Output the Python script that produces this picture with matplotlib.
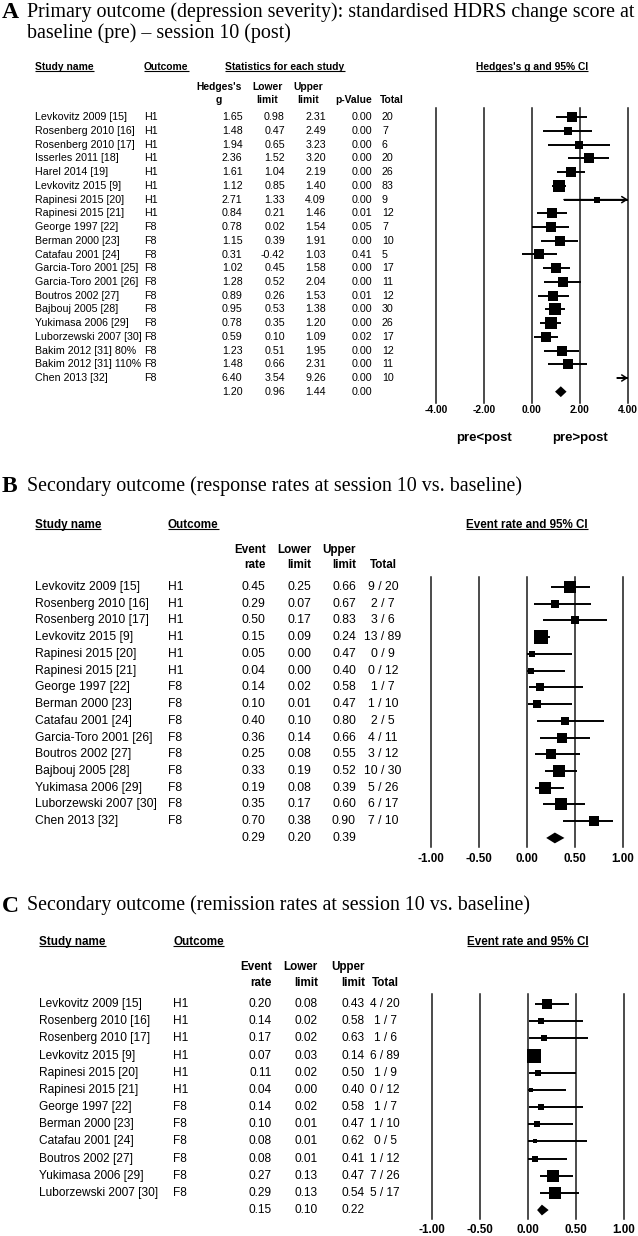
import matplotlib
matplotlib.use("Agg")
import matplotlib.pyplot as plt
import matplotlib.transforms as mtransforms
import numpy as np

# ---------------- data ----------------
A_study = ["Levkovitz 2009 [15]", "Rosenberg 2010 [16]", "Rosenberg 2010 [17]", "Isserles 2011 [18]",
           "Harel 2014 [19]", "Levkovitz 2015 [9]", "Rapinesi 2015 [20]", "Rapinesi 2015 [21]",
           "George 1997 [22]", "Berman 2000 [23]", "Catafau 2001 [24]", "Garcia-Toro 2001 [25]",
           "Garcia-Toro 2001 [26]", "Boutros 2002 [27]", "Bajbouj 2005 [28]", "Yukimasa 2006 [29]",
           "Luborzewski 2007 [30]", "Bakim 2012 [31] 80%", "Bakim 2012 [31] 110%", "Chen 2013 [32]"]
A_outcome = ["H1"] * 8 + ["F8"] * 12
A_g = [1.65, 1.48, 1.94, 2.36, 1.61, 1.12, 2.71, 0.84, 0.78, 1.15, 0.31, 1.02, 1.28, 0.89, 0.95,
       0.78, 0.59, 1.23, 1.48, 6.40]
A_lower = [0.98, 0.47, 0.65, 1.52, 1.04, 0.85, 1.33, 0.21, 0.02, 0.39, -0.42, 0.45, 0.52, 0.26, 0.53,
           0.35, 0.10, 0.51, 0.66, 3.54]
A_upper = [2.31, 2.49, 3.23, 3.20, 2.19, 1.40, 4.09, 1.46, 1.54, 1.91, 1.03, 1.58, 2.04, 1.53, 1.38,
           1.20, 1.09, 1.95, 2.31, 9.26]
A_p = [0.00, 0.00, 0.00, 0.00, 0.00, 0.00, 0.00, 0.01, 0.05, 0.00, 0.41, 0.00, 0.00, 0.01, 0.00,
       0.00, 0.02, 0.00, 0.00, 0.00]
A_total = [20, 7, 6, 20, 26, 83, 9, 12, 7, 10, 5, 17, 11, 12, 30, 26, 17, 12, 11, 10]
A_summary = [1.20, 0.96, 1.44, 0.00]
A_ticks = [-4.0, -2.0, 0.0, 2.0, 4.0]
A_tick_labels = ["-4.00", "-2.00", "0.00", "2.00", "4.00"]
A_direction = ["pre<post", "pre>post"]

B_study = ["Levkovitz 2009 [15]", "Rosenberg 2010 [16]", "Rosenberg 2010 [17]", "Levkovitz 2015 [9]",
           "Rapinesi 2015 [20]", "Rapinesi 2015 [21]", "George 1997 [22]", "Berman 2000 [23]",
           "Catafau 2001 [24]", "Garcia-Toro 2001 [26]", "Boutros 2002 [27]", "Bajbouj 2005 [28]",
           "Yukimasa 2006 [29]", "Luborzewski 2007 [30]", "Chen 2013 [32]"]
B_outcome = ["H1"] * 6 + ["F8"] * 9
B_rate = [0.45, 0.29, 0.50, 0.15, 0.05, 0.04, 0.14, 0.10, 0.40, 0.36, 0.25, 0.33, 0.19, 0.35, 0.70]
B_lower = [0.25, 0.07, 0.17, 0.09, 0.00, 0.00, 0.02, 0.01, 0.10, 0.14, 0.08, 0.19, 0.08, 0.17, 0.38]
B_upper = [0.66, 0.67, 0.83, 0.24, 0.47, 0.40, 0.58, 0.47, 0.80, 0.66, 0.55, 0.52, 0.39, 0.60, 0.90]
B_events = [9, 2, 3, 13, 0, 0, 1, 1, 2, 4, 3, 10, 5, 6, 7]
B_total = [20, 7, 6, 89, 9, 12, 7, 10, 5, 11, 12, 30, 26, 17, 10]
B_summary = [0.29, 0.20, 0.39]

C_study = ["Levkovitz 2009 [15]", "Rosenberg 2010 [16]", "Rosenberg 2010 [17]", "Levkovitz 2015 [9]",
           "Rapinesi 2015 [20]", "Rapinesi 2015 [21]", "George 1997 [22]", "Berman 2000 [23]",
           "Catafau 2001 [24]", "Boutros 2002 [27]", "Yukimasa 2006 [29]", "Luborzewski 2007 [30]"]
C_outcome = ["H1"] * 6 + ["F8"] * 6
C_rate = [0.20, 0.14, 0.17, 0.07, 0.11, 0.04, 0.14, 0.10, 0.08, 0.08, 0.27, 0.29]
C_lower = [0.08, 0.02, 0.02, 0.03, 0.02, 0.00, 0.02, 0.01, 0.01, 0.01, 0.13, 0.13]
C_upper = [0.43, 0.58, 0.63, 0.14, 0.50, 0.40, 0.58, 0.47, 0.62, 0.41, 0.47, 0.54]
C_events = [4, 1, 1, 6, 1, 0, 1, 1, 0, 1, 7, 5]
C_total = [20, 7, 6, 89, 9, 12, 7, 10, 5, 12, 26, 17]
C_summary = [0.15, 0.10, 0.22]

rate_ticks = [-1.0, -0.5, 0.0, 0.5, 1.0]
rate_tick_labels = ["-1.00", "-0.50", "0.00", "0.50", "1.00"]

TITLE_A = ["Primary outcome (depression severity): standardised HDRS change score at",
           "baseline (pre) \u2013 session 10 (post)"]
TITLE_B = "Secondary outcome (response rates at session 10 vs. baseline)"
TITLE_C = "Secondary outcome (remission rates at session 10 vs. baseline)"

# ---------------- layout ----------------
W, H = 638, 1236
SANS = ["Liberation Sans", "DejaVu Sans"]
SERIF = ["Liberation Serif", "DejaVu Serif"]
TSIZE = 14.4
LSIZE = 17

fig = plt.figure(figsize=(W / 100, H / 100), dpi=100)
fig.patch.set_facecolor("white")
bg = fig.add_axes([0, 0, 1, 1])
bg.set_xlim(0, W)
bg.set_ylim(H, 0)
bg.axis("off")

underlined = []


def txt(x, y, s, size, bold=False, ha="left", family=SANS, transform=None, underline=False):
    t = bg.text(x, y, s, fontsize=size, fontweight="bold" if bold else "normal", ha=ha,
                va="center", family=family, color="black",
                transform=transform if transform is not None else bg.transData)
    if underline:
        underlined.append((t, y, size))
    return t


def forest(x0, x1, xlim, top, bottom, row1, sp, ticks, labels, tick_size, pad):
    ax = fig.add_axes([x0 / W, 1 - bottom / H, (x1 - x0) / W, (bottom - top) / H])
    ax.set_xlim(*xlim)
    ax.set_ylim((bottom - row1) / sp, (top - row1) / sp)
    ax.patch.set_alpha(0)
    for s in ax.spines.values():
        s.set_visible(False)
    ax.set_yticks([])
    ax.set_xticks(ticks)
    ax.set_xticklabels(labels, fontsize=tick_size, fontweight="bold", family=SANS)
    ax.tick_params(axis="x", length=0, pad=pad)
    for t in ticks:
        ax.axvline(t, color="#1a1a1a", lw=1.1, clip_on=False, zorder=1)
    return ax


def draw_rows(ax, est, lo, hi, sides_px, sp, summary):
    xmin, xmax = ax.get_xlim()
    n = len(est)
    for i in range(n):
        l = max(lo[i], xmin)
        h = min(hi[i], xmax)
        ax.plot([l, h], [i, i], color="black", lw=1.4, solid_capstyle="butt", zorder=2,
                clip_on=False)
        if hi[i] > xmax:
            ax.annotate("", xy=(xmax, i), xytext=(l, i),
                        arrowprops=dict(arrowstyle="->,head_length=0.35,head_width=0.22",
                                        lw=1.1, color="black", shrinkA=0, shrinkB=0))
        if xmin <= est[i] <= xmax:
            ax.scatter([est[i]], [i], s=(sides_px[i] * 0.72) ** 2, marker="s", color="black",
                       linewidths=0, zorder=3, clip_on=False)
    m, l, h = summary[:3]
    hh = 5.4 / sp
    ax.fill([l, m, h, m], [n, n - hh, n, n + hh], color="black", lw=0, zorder=3, clip_on=False)


def logit_var(ev, tot):
    ev = np.asarray(ev, float)
    tot = np.asarray(tot, float)
    c = np.where(ev == 0, 0.5, 0.0)
    return 1.0 / (ev + c) + 1.0 / (tot - ev + c)


def sides(var, tau2, smax):
    w = 1.0 / (np.asarray(var) + tau2)
    return smax * np.sqrt(w / w.max())


# ================= Panel A =================
txt(2, 13, "A", LSIZE, bold=True, family=SERIF)
txt(27, 12, TITLE_A[0], TSIZE, family=SERIF)
txt(27, 33, TITLE_A[1], TSIZE, family=SERIF)

axA = forest(436, 628, (A_ticks[0], A_ticks[-1]), 108, 402.7, 117.3, 13.72,
             A_ticks, A_tick_labels, 7.4, 1.6)
trA = mtransforms.blended_transform_factory(axA.transData, bg.transData)

hs = 7.4
txt(35, 67.3, "Study name", hs, True, underline=True)
txt(144, 67.3, "Outcome", hs, True, underline=True)
txt(285, 67.3, "Statistics for each study", hs, True, ha="center", underline=True)
txt(0, 67.3, "Hedges's g and 95% CI", hs, True, ha="center", transform=trA, underline=True)
txt(219, 86.7, "Hedges's", hs, True, ha="center")
txt(219, 100, "g", hs, True, ha="center")
txt(267.5, 86.7, "Lower", hs, True, ha="center")
txt(267.5, 100, "limit", hs, True, ha="center")
txt(308, 86.7, "Upper", hs, True, ha="center")
txt(308, 100, "limit", hs, True, ha="center")
txt(372.5, 100, "p-Value", hs, True, ha="right")
txt(380, 100, "Total", hs, True)

rs = 7.7
for i in range(len(A_study)):
    y = 117.3 + i * 13.72
    txt(35, y, A_study[i], rs)
    txt(144, y, A_outcome[i], rs)
    txt(242.5, y, f"{A_g[i]:.2f}", rs, ha="right")
    txt(285, y, f"{A_lower[i]:.2f}", rs, ha="right")
    txt(326, y, f"{A_upper[i]:.2f}", rs, ha="right")
    txt(372.5, y, f"{A_p[i]:.2f}", rs, ha="right")
    txt(382, y, str(A_total[i]), rs)
y = 117.3 + len(A_study) * 13.72
txt(242.5, y, f"{A_summary[0]:.2f}", rs, ha="right")
txt(285, y, f"{A_summary[1]:.2f}", rs, ha="right")
txt(326, y, f"{A_summary[2]:.2f}", rs, ha="right")
txt(372.5, y, f"{A_summary[3]:.2f}", rs, ha="right")

seA = (np.array(A_upper) - np.array(A_lower)) / 3.92
draw_rows(axA, A_g, A_lower, A_upper, sides(seA ** 2, 0.2, 12.0), 13.72, A_summary)
txt(-2, 437.7, A_direction[0], 9.5, True, ha="center", transform=trA)
txt(2, 437.7, A_direction[1], 9.5, True, ha="center", transform=trA)


# ================= Panels B / C =================
def rate_panel(letter, title, ty, hy, ey, ry, row1, sp, cols, names, outc, rate, lo, hi, ev, tot,
               summary, fx0, fx1, ftop, fbot, pad, rsize, tau2):
    txt(2, ty + 1, letter, LSIZE, bold=True, family=SERIF)
    txt(27, ty, title, TSIZE, family=SERIF)
    ax = forest(fx0, fx1, (rate_ticks[0], rate_ticks[-1]), ftop, fbot, row1, sp,
                rate_ticks, rate_tick_labels, 8.4, pad)
    tr = mtransforms.blended_transform_factory(ax.transData, bg.transData)
    cs, co, ce, cl, cu, ct = cols
    h = 8.4
    txt(cs, hy, "Study name", h, True, underline=True)
    txt(co, hy, "Outcome", h, True, underline=True)
    txt(0, hy, "Event rate and 95% CI", h, True, ha="center", transform=tr, underline=True)
    txt(ce, ey, "Event", h, True, ha="right")
    txt(ce, ry, "rate", h, True, ha="right")
    txt(cl, ey, "Lower", h, True, ha="right")
    txt(cl, ry, "limit", h, True, ha="right")
    txt(cu, ey, "Upper", h, True, ha="right")
    txt(cu, ry, "limit", h, True, ha="right")
    txt(ct, ry, "Total", h, True, ha="center")
    for i in range(len(names)):
        y = row1 + i * sp
        txt(cs, y, names[i], rsize)
        txt(co, y, outc[i], rsize)
        txt(ce, y, f"{rate[i]:.2f}", rsize, ha="right")
        txt(cl, y, f"{lo[i]:.2f}", rsize, ha="right")
        txt(cu, y, f"{hi[i]:.2f}", rsize, ha="right")
        txt(ct, y, f"{ev[i]} / {tot[i]}", rsize, ha="center")
    y = row1 + len(names) * sp
    txt(ce, y, f"{summary[0]:.2f}", rsize, ha="right")
    txt(cl, y, f"{summary[1]:.2f}", rsize, ha="right")
    txt(cu, y, f"{summary[2]:.2f}", rsize, ha="right")
    draw_rows(ax, rate, lo, hi, sides(logit_var(ev, tot), tau2, 13.3), sp, summary)


rate_panel("B", TITLE_B, 486, 525, 550, 565, 587, 16.73,
           (35, 168, 265.7, 311.7, 356, 383),
           B_study, B_outcome, B_rate, B_lower, B_upper, B_events, B_total, B_summary,
           431, 623, 577, 846.7, 4.2, 8.7, 0.36)

rate_panel("C", TITLE_C, 905, 942, 967, 983, 1004, 17.17,
           (39.3, 173, 271.7, 318, 365, 385),
           C_study, C_outcome, C_rate, C_lower, C_upper, C_events, C_total, C_summary,
           431.5, 623.5, 994, 1219, 3.5, 8.6, 0.11)

# ---------------- underlines ----------------
fig.canvas.draw()
renderer = fig.canvas.get_renderer()
inv = bg.transData.inverted()
for t, yc, size in underlined:
    bb = t.get_window_extent(renderer)
    xa = inv.transform((bb.x0, bb.y0))[0]
    xb = inv.transform((bb.x1, bb.y0))[0]
    em = size * 100 / 72
    yl = yc + 0.26 * em + 1.4
    bg.plot([xa, xb], [yl, yl], color="black", lw=0.8, solid_capstyle="butt")

fig.savefig("out.png", dpi=100, facecolor="white")
